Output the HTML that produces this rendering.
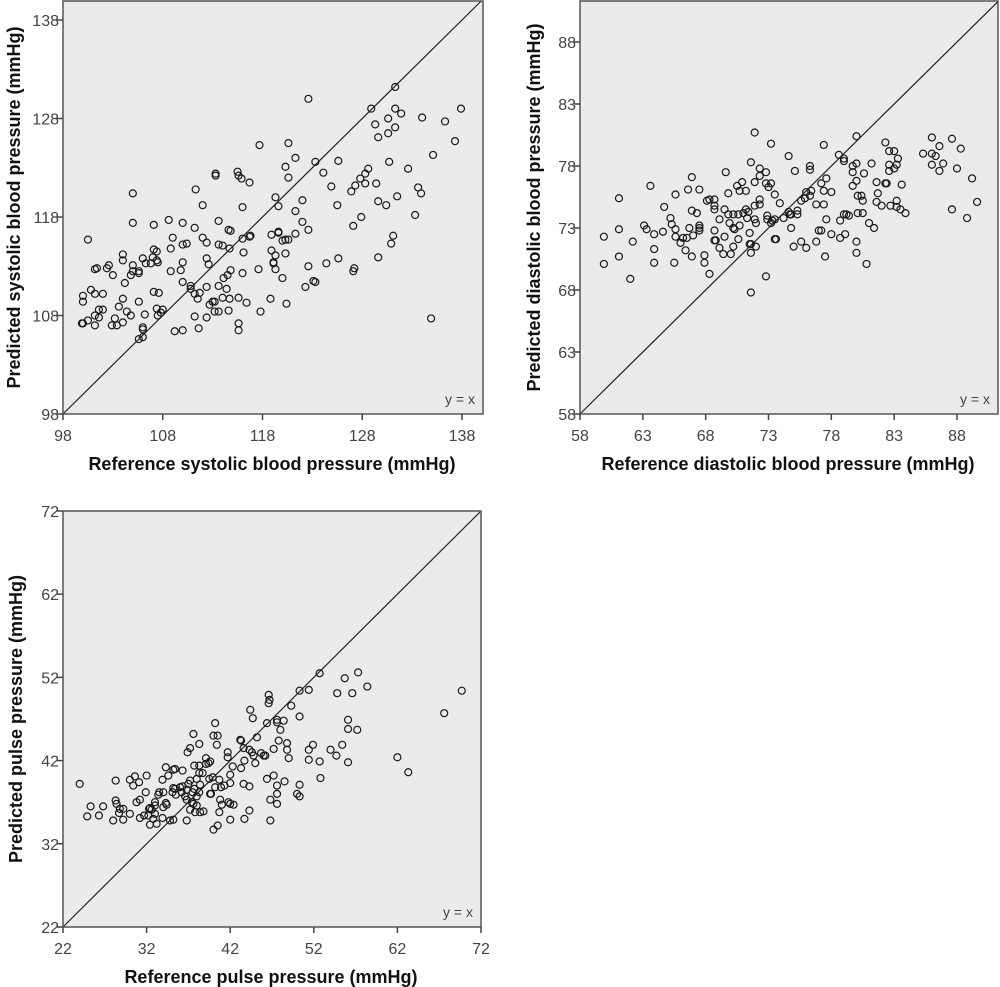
<!DOCTYPE html>
<html><head><meta charset="utf-8"><style>
html,body{margin:0;padding:0;background:#fff;}
svg{display:block;font-family:"Liberation Sans",Arial,sans-serif;}
</style></head><body>
<svg id="chart" width="1000" height="987" viewBox="0 0 1000 987" xmlns="http://www.w3.org/2000/svg"></svg>
<script>
const sysTicks=[98,108,118,128,138];
const diaTicks=[58,63,68,73,78,83,88];
const ppTicks=[22,32,42,52,62,72];
const sysRef=[131.3,122.6,128.9,131.3,131.9,130.6,134.0,137.9,136.3,129.3,131.3,129.6,130.6,137.3,117.7,120.6,121.3,135.1,125.6,123.3,130.7,120.3,128.6,132.6,124.1,128.3,127.8,120.6,113.3,113.3,115.5,115.6,115.9,116.7,128.3,129.4,127.3,124.9,133.6,111.3,126.9,133.9,105.0,119.3,131.5,122.0,129.6,130.4,125.5,112.0,119.6,116.0,121.3,133.3,127.9,113.6,122.0,105.0,110.0,107.1,108.6,127.1,111.2,114.6,114.8,122.6,119.6,119.6,121.3,118.9,116.8,116.7,116.0,131.1,130.9,120.0,120.3,120.6,100.5,109.0,112.0,112.4,110.0,110.4,113.6,114.0,114.7,107.1,107.4,108.8,118.9,116.1,120.3,119.3,104.0,104.0,106.0,107.0,107.4,107.5,112.4,125.6,129.6,119.1,119.1,110.0,106.8,112.6,106.3,102.6,102.4,101.4,101.2,105.0,105.0,105.6,105.6,104.8,108.8,109.8,114.8,116.0,119.3,117.6,122.6,124.4,127.2,127.1,103.0,114.5,114.1,120.0,104.2,110.0,110.8,110.8,113.6,114.4,112.4,122.3,123.1,123.3,100.8,101.2,102.0,100.0,100.0,107.1,107.6,111.2,111.7,111.5,104.0,105.6,114.0,114.7,115.6,116.4,118.8,120.4,113.0,112.7,113.2,103.6,101.6,102.0,104.4,107.4,108.0,107.8,113.6,114.6,117.8,113.2,101.2,101.6,103.2,104.8,106.2,107.5,111.2,112.4,134.9,100.5,100.0,99.9,101.2,102.9,103.4,104.0,106.0,106.0,105.6,106.0,109.2,110.0,111.6,115.6,115.6];
const sysPred=[131.2,130.0,129.0,129.0,128.5,128.0,128.1,129.0,127.7,127.4,127.1,126.1,126.5,125.7,125.3,125.5,124.0,124.3,123.7,123.6,123.6,123.1,122.9,122.9,122.5,122.4,121.9,122.0,122.4,122.2,122.6,122.2,121.9,121.5,121.4,121.4,121.2,121.1,121.0,120.8,120.6,120.4,120.4,120.0,120.1,119.7,119.6,119.2,119.2,119.2,119.1,119.0,118.6,118.2,118.0,117.6,117.5,117.4,117.4,117.2,117.7,117.1,116.9,116.7,116.6,116.7,116.5,116.4,116.3,116.2,116.1,116.0,115.8,116.1,115.3,115.6,115.7,115.7,115.7,115.9,115.9,115.4,115.2,115.3,115.2,115.1,114.8,114.7,114.5,114.8,114.6,114.4,114.3,114.1,114.2,113.6,113.8,113.9,113.6,113.4,113.8,113.8,113.9,113.4,113.3,113.4,113.3,113.2,113.3,113.1,112.8,112.8,112.7,113.1,112.5,112.5,112.3,112.1,112.5,112.6,112.6,112.3,112.7,112.7,113.0,113.3,112.8,112.5,112.1,112.1,111.8,111.8,111.3,111.4,111.0,110.7,111.0,110.7,110.9,110.9,111.5,111.4,110.6,110.2,110.2,110.0,109.4,110.4,110.3,110.2,110.3,109.7,109.7,109.4,109.8,109.7,109.8,109.3,109.7,109.2,109.4,109.1,109.4,108.9,108.6,108.6,108.4,108.7,108.6,108.3,108.4,108.5,108.4,108.4,108.0,107.8,107.7,108.0,108.1,108.0,107.9,107.8,107.7,107.5,107.2,107.2,107.0,107.0,107.0,107.3,106.8,106.6,105.6,105.8,106.4,106.5,106.7,107.2,106.5];
const diaRef=[80.0,71.9,73.2,77.4,82.3,86.0,87.6,86.6,88.3,82.6,83.0,83.3,85.3,86.0,86.3,78.6,79.0,79.0,74.6,80.0,79.7,81.2,82.6,83.2,83.0,82.6,86.0,86.9,86.6,88.0,76.3,76.3,71.6,72.3,72.8,72.3,75.1,69.6,79.7,80.6,66.9,89.2,77.6,77.2,77.4,80.0,79.7,81.6,82.3,82.4,83.6,72.8,73.2,73.0,71.9,70.9,70.5,70.7,71.2,63.6,67.5,66.6,69.8,65.6,73.5,76.4,78.0,81.7,61.1,80.1,80.4,80.5,81.6,89.6,68.1,68.3,68.7,68.7,68.7,72.3,73.9,75.6,75.9,76.3,76.0,76.8,77.4,82.0,82.7,83.2,83.2,83.5,83.9,87.6,88.8,64.7,66.9,67.3,69.5,69.8,70.2,70.6,71.2,71.0,71.4,71.3,71.9,72.3,72.9,72.9,73.3,73.2,73.5,74.2,74.6,74.7,74.8,75.3,75.3,79.0,79.2,79.4,80.1,80.5,78.7,77.6,81.0,81.4,65.2,65.3,65.6,65.6,63.1,63.3,63.9,64.6,66.7,67.0,67.5,67.5,67.5,69.1,68.7,69.9,70.2,70.3,70.7,71.9,72.0,74.8,77.0,77.2,59.9,61.1,62.2,66.2,66.5,66.0,68.7,68.8,69.5,70.6,71.5,71.5,71.6,72.0,71.6,73.5,73.6,75.6,76.0,75.0,76.8,78.0,78.7,79.1,80.0,63.9,66.4,69.1,70.2,70.0,69.4,61.1,66.9,67.9,77.5,80.0,59.9,63.9,65.5,67.9,80.8,62.0,68.3,72.8,71.6];
const diaPred=[80.4,80.7,79.8,79.7,79.9,80.3,80.2,79.6,79.4,79.2,79.2,78.6,79.0,79.0,78.8,78.9,78.6,78.4,78.8,78.2,78.0,78.2,78.1,78.1,77.8,77.6,78.1,78.2,77.6,77.8,78.0,77.7,78.3,77.8,77.5,77.2,77.6,77.5,77.5,77.4,77.1,77.0,77.0,76.6,76.0,76.8,76.4,76.7,76.6,76.6,76.5,76.6,76.6,76.3,76.7,76.7,76.4,76.0,76.0,76.4,76.1,76.1,75.8,75.7,75.7,76.0,75.9,75.8,75.4,75.6,75.6,75.2,75.1,75.1,75.2,75.3,75.3,74.8,74.5,75.3,75.0,75.2,75.4,75.6,75.9,74.9,74.9,74.8,74.8,75.2,74.7,74.5,74.2,74.5,73.8,74.7,74.4,74.2,74.5,74.1,74.1,74.1,74.5,74.2,74.3,73.8,74.8,74.9,74.0,73.7,73.6,73.4,73.7,73.8,74.3,74.1,74.1,74.1,74.4,74.1,74.1,74.0,74.2,74.2,73.6,73.7,73.4,73.0,73.8,73.3,72.9,72.3,73.2,72.9,72.5,72.7,73.0,72.4,73.0,73.2,72.8,73.7,72.8,73.4,73.0,72.9,73.2,73.7,73.4,73.0,72.8,72.8,72.3,72.9,71.9,72.2,72.2,71.8,72.0,72.0,72.3,72.1,72.6,71.7,71.7,71.5,71.0,72.1,72.1,71.9,71.4,71.5,71.9,72.5,72.2,72.5,71.9,71.3,71.2,71.4,71.5,70.9,70.9,70.7,70.7,70.8,70.7,71.0,70.1,70.2,70.2,70.2,70.1,68.9,69.3,69.1,67.8];
const ppRef=[52.7,57.3,55.7,58.4,50.3,51.4,54.8,56.6,69.7,46.6,46.7,46.6,49.3,44.4,44.7,46.4,47.6,47.6,48.4,48.0,50.3,67.6,56.1,56.1,57.2,40.2,40.0,40.5,40.4,37.6,38.3,37.2,36.9,39.1,41.7,41.7,43.2,43.3,45.2,43.6,44.3,44.6,44.8,45.0,43.7,45.7,46.0,46.2,47.2,48.8,48.8,49.0,47.8,51.4,51.9,51.4,52.7,54.0,54.7,55.4,56.1,62.0,63.3,52.8,47.2,46.4,48.5,47.6,50.3,50.0,50.3,47.6,47.6,46.8,46.8,43.6,44.3,44.3,43.7,42.0,42.0,42.3,43.3,40.7,41.3,40.9,40.2,39.6,39.7,40.8,41.0,40.7,41.8,42.0,42.4,42.0,40.0,40.5,38.7,39.5,39.9,39.4,39.6,39.1,38.3,37.7,38.3,38.0,37.2,37.0,37.7,38.4,38.3,38.0,36.3,36.8,37.5,36.6,36.8,37.4,37.6,38.0,37.8,38.4,38.8,37.2,36.0,35.4,35.2,35.5,36.2,35.1,34.6,35.2,35.4,36.3,34.3,33.9,33.5,34.0,33.4,34.3,34.4,34.0,33.0,33.0,32.4,32.6,33.0,32.8,32.4,33.2,33.9,34.8,35.2,36.8,31.9,32.0,31.1,31.2,30.8,30.6,30.0,30.4,31.2,31.7,32.2,32.3,30.0,29.2,28.7,29.2,28.0,28.8,28.4,28.3,28.3,26.8,26.3,25.3,24.9,24.0];
const ppPred=[52.5,52.6,51.9,50.9,50.4,50.5,50.1,50.1,50.4,49.9,49.3,48.9,48.6,48.1,47.1,46.5,46.9,46.6,46.8,45.7,47.3,47.7,46.9,45.8,45.7,46.5,45.0,45.0,43.9,45.2,44.0,43.5,43.0,42.3,43.0,42.4,44.5,44.4,44.8,43.5,43.3,43.0,42.6,41.7,42.0,42.9,42.6,42.6,43.4,44.1,43.3,42.3,44.4,43.3,43.9,42.1,41.9,43.3,42.6,43.9,41.8,42.4,40.6,39.9,40.2,39.8,39.5,39.0,39.1,38.0,37.7,38.0,36.8,37.3,34.8,39.2,38.9,36.0,35.0,39.3,40.3,41.3,41.1,39.7,39.0,38.8,38.8,38.0,38.0,37.3,36.7,35.8,37.0,36.8,36.7,34.9,33.7,34.2,40.5,39.8,40.0,41.7,41.9,41.6,41.4,41.4,40.5,39.8,39.6,39.2,38.6,39.1,38.2,37.7,38.9,38.5,38.2,37.7,37.3,37.0,36.8,36.6,35.8,35.8,35.9,36.1,38.8,38.6,38.7,37.9,38.2,38.2,40.2,40.9,41.0,40.8,41.2,39.7,38.2,38.2,37.9,36.9,36.7,36.4,37.0,36.6,36.3,36.1,35.6,35.0,34.3,34.4,35.1,34.8,34.9,34.8,38.2,40.2,39.4,37.3,37.0,40.1,39.7,39.0,35.1,35.4,35.4,36.2,35.6,36.2,35.7,34.9,34.8,36.2,36.8,37.2,39.6,36.5,35.4,36.5,35.3,39.2];

const NS="http://www.w3.org/2000/svg";
const svg=document.getElementById('chart');
function mk(tag,attrs,parent){const e=document.createElementNS(NS,tag);for(const k in attrs)e.setAttribute(k,attrs[k]);(parent||svg).appendChild(e);return e;}

function panel(p){
  const g=mk('g',{});
  
  
  const sx=v=>p.x0+(v-p.t0)*(p.x1-p.x0)/(p.t1-p.t0);
  const sy=v=>p.y0-(v-p.t0)*(p.y0-p.y1)/(p.t1-p.t0);
  const bg=mk('rect',{x:p.L,y:p.T,width:p.R-p.L,height:p.B-p.T,fill:'#ebebeb',stroke:'none'},g);
  
  
  const vxMax=p.t0+(p.R-p.x0)*(p.t1-p.t0)/(p.x1-p.x0);
  const vyMax=p.t0+(p.y0-p.T)*(p.t1-p.t0)/(p.y0-p.y1);
  const vEnd=Math.min(vxMax,vyMax);
  const dl=mk('line',{x1:sx(p.t0),y1:sy(p.t0),x2:sx(vEnd),y2:sy(vEnd),stroke:'#222','stroke-width':1.2},g);
  
  
  const lt=mk('text',{x:p.R-8,y:p.B-10,'text-anchor':'end','font-size':14,fill:'#444'},g);
  lt.textContent='y = x';
  
  
  for(let i=0;i<p.xs.length;i++){
    const c=mk('circle',{cx:sx(p.xs[i]),cy:sy(p.ys[i]),r:3.5,fill:'none',stroke:'#1a1a1a','stroke-width':1.2},g);
    
    
  }
  const fr=mk('rect',{x:p.L,y:p.T,width:p.R-p.L,height:p.B-p.T,fill:'none',stroke:'#555','stroke-width':1.5},g);
  
  
  for(const t of p.ticks){
    const X=sx(t),Y=sy(t);
    mk('line',{x1:X,y1:p.B,x2:X,y2:p.B+6,stroke:'#444','stroke-width':1.5},g);
    const tx=mk('text',{x:X,y:p.B+27,'text-anchor':'middle','font-size':16,fill:'#444'},g);
    tx.textContent=t;
    
    
    mk('line',{x1:p.L-6,y1:Y,x2:p.L,y2:Y,stroke:'#444','stroke-width':1.5},g);
    const ty=mk('text',{x:p.L-4,y:Y+6,'text-anchor':'end','font-size':16,fill:'#444'},g);
    ty.textContent=t;
    
    
  }
  const xt=mk('text',{x:(p.L+p.R)/2-1,y:p.B+56,'text-anchor':'middle','font-size':18,'font-weight':'bold',fill:'#111'},g);
  xt.textContent=p.xtitle;
  
  
  const cy=(p.T+p.B)/2;
  const yt=mk('text',{x:0,y:0,transform:`translate(${p.ytx},${cy}) rotate(-90)`,'text-anchor':'middle','font-size':18,'font-weight':'bold',fill:'#111'},g);
  yt.textContent=p.ytitle;
  
  
}
panel({name:'systolic-panel',L:63,R:483,T:1,B:414,x0:63,x1:462,y0:414,y1:20,t0:98,t1:138,ticks:sysTicks,xs:sysRef,ys:sysPred,
  xtitle:'Reference systolic blood pressure (mmHg)',ytitle:'Predicted systolic blood pressure (mmHg)',ytx:20});
panel({name:'diastolic-panel',L:580,R:998,T:1,B:414,x0:580,x1:957,y0:414,y1:42,t0:58,t1:88,ticks:diaTicks,xs:diaRef,ys:diaPred,
  xtitle:'Reference diastolic blood pressure (mmHg)',ytitle:'Predicted diastolic blood pressure (mmHg)',ytx:540});
panel({name:'pulse-panel',L:63,R:481,T:511,B:927,x0:63,x1:481,y0:927,y1:511,t0:22,t1:72,ticks:ppTicks,xs:ppRef,ys:ppPred,
  xtitle:'Reference pulse pressure (mmHg)',ytitle:'Predicted pulse pressure (mmHg)',ytx:22});
</script>
</body></html>
